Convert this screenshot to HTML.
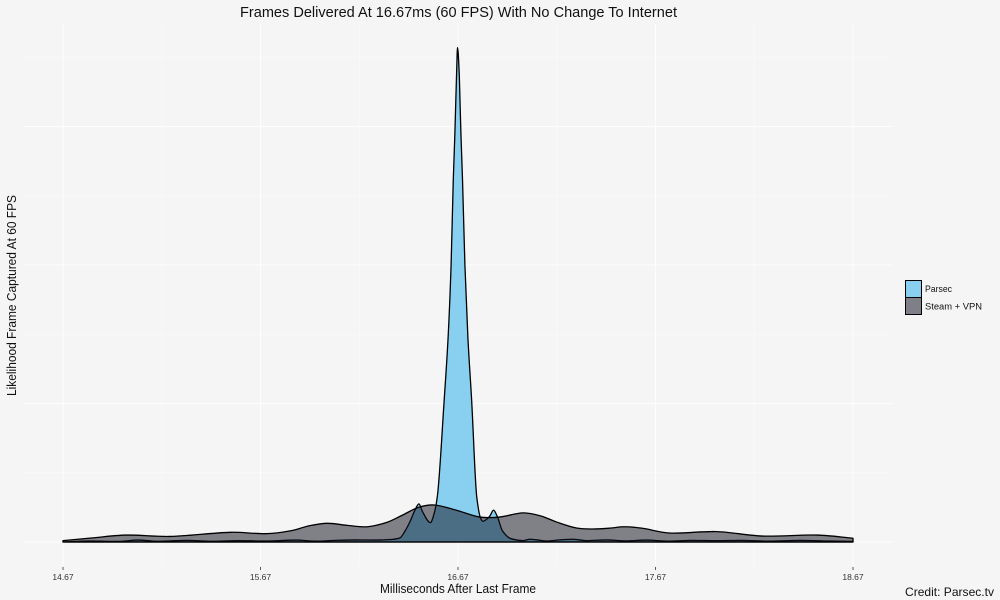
<!DOCTYPE html>
<html lang="en">
<head>
<meta charset="utf-8">
<title>Frames Delivered At 16.67ms</title>
<style>
html,body{margin:0;padding:0;background:#f5f5f5;width:1000px;height:600px;overflow:hidden}
svg{display:block}
text{font-family:"Liberation Sans",sans-serif;fill:#111}
</style>
</head>
<body>
<svg id="chart" xmlns="http://www.w3.org/2000/svg" width="1000" height="600" viewBox="0 0 1000 600">
  <rect x="0" y="0" width="1000" height="600" fill="#f5f5f5"/>
  <g id="grid"></g>
  <g id="series"></g>
  <g id="ticks"></g>
  <text x="458.5" y="17" text-anchor="middle" font-size="14.5" textLength="437" lengthAdjust="spacingAndGlyphs">Frames Delivered At 16.67ms (60 FPS) With No Change To Internet</text>
  <text x="458" y="593" text-anchor="middle" font-size="12.5" textLength="156" lengthAdjust="spacingAndGlyphs">Milliseconds After Last Frame</text>
  <text transform="translate(16,295.5) rotate(-90)" text-anchor="middle" font-size="12.5" textLength="201" lengthAdjust="spacingAndGlyphs">Likelihood Frame Captured At 60 FPS</text>
  <g>
    <g>
      <rect x="905.5" y="280.5" width="16" height="17" fill="#89d0f0" stroke="#000" stroke-width="1"/>
      <text x="925" y="292" font-size="9" textLength="27" lengthAdjust="spacingAndGlyphs">Parsec</text>
    </g>
    <g>
      <rect x="905.5" y="297.5" width="16" height="17" fill="#7f8087" stroke="#000" stroke-width="1"/>
      <text x="925" y="309.5" font-size="9" textLength="57" lengthAdjust="spacingAndGlyphs">Steam + VPN</text>
    </g>
  </g>
  <text x="905" y="596" font-size="12" textLength="89" lengthAdjust="spacingAndGlyphs">Credit: Parsec.tv</text>
</svg>
<script>
const xMajorTicks = [14.67, 15.67, 16.67, 17.67, 18.67];
const xMinorTicks = [15.17, 16.17, 17.17, 18.17];
const xTickLabels = ["14.67", "15.67", "16.67", "17.67", "18.67"];
const yMajorTicks = [0, 1, 2, 3];
const yMinorTicks = [0.5, 1.5, 2.5, 3.5];

const parsecMs = [14.67, 14.8, 14.95, 15.05, 15.15, 15.3, 15.42, 15.55, 15.7, 15.85, 15.95, 16.05, 16.15, 16.25, 16.33, 16.376, 16.4, 16.427, 16.452, 16.472, 16.49, 16.53, 16.55, 16.565, 16.6, 16.62, 16.635, 16.646, 16.654, 16.658, 16.663, 16.6675, 16.676, 16.681, 16.685, 16.693, 16.705, 16.72, 16.739, 16.765, 16.785, 16.795, 16.83, 16.85, 16.87, 16.895, 16.94, 17.0, 17.035, 17.07, 17.12, 17.19, 17.25, 17.32, 17.42, 17.52, 17.62, 17.74, 17.85, 17.98, 18.1, 18.25, 18.4, 18.55, 18.67];
const parsecDensity = [0, 0.007, 0.004, 0.014, 0.005, 0.012, 0.005, 0.01, 0.007, 0.014, 0.006, 0.012, 0.015, 0.014, 0.018, 0.03, 0.075, 0.147, 0.23, 0.275, 0.22, 0.14, 0.21, 0.325, 1.025, 1.48, 2.0, 2.61, 2.94, 3.14, 3.39, 3.57, 3.39, 3.14, 2.94, 2.61, 2.0, 1.48, 1.025, 0.325, 0.17, 0.15, 0.185, 0.23, 0.18, 0.08, 0.023, 0.01, 0.02, 0.015, 0.007, 0.016, 0.02, 0.01, 0.015, 0.008, 0.014, 0.006, 0.012, 0.01, 0.012, 0.006, 0.012, 0.007, 0.004];

const steamMs = [14.67, 14.82, 14.99, 15.21, 15.52, 15.7, 15.82, 15.92, 16.01, 16.11, 16.21, 16.31, 16.39, 16.47, 16.55, 16.66, 16.78, 16.88, 17.0, 17.09, 17.17, 17.27, 17.35, 17.44, 17.51, 17.6, 17.74, 17.98, 18.21, 18.49, 18.67];
const steamDensity = [0.01, 0.03, 0.05, 0.04, 0.07, 0.06, 0.08, 0.118, 0.135, 0.12, 0.11, 0.142, 0.195, 0.25, 0.267, 0.23, 0.18, 0.18, 0.21, 0.188, 0.144, 0.101, 0.094, 0.1, 0.11, 0.1, 0.065, 0.075, 0.043, 0.05, 0.027];

const SVG_NS = "http://www.w3.org/2000/svg";
const xScale = v => 63 + (v - 14.67) * 197.5;
const yScale = v => 542 - v * 138.5;

function line(parent, x1, y1, x2, y2, color, width) {
  const el = document.createElementNS(SVG_NS, "line");
  el.setAttribute("x1", x1);
  el.setAttribute("y1", y1);
  el.setAttribute("x2", x2);
  el.setAttribute("y2", y2);
  el.setAttribute("stroke", color);
  el.setAttribute("stroke-width", width);
  parent.appendChild(el);
  return el;
}

function cubicPath(xs, ys, smooth) {
  const n = xs.length, d = [], m = [];
  for (let i = 0; i < n - 1; i++) d.push((ys[i + 1] - ys[i]) / (xs[i + 1] - xs[i]));
  m.push(d[0]);
  for (let i = 1; i < n - 1; i++) {
    if (smooth) { m.push((ys[i + 1] - ys[i - 1]) / (xs[i + 1] - xs[i - 1])); continue; }
    if (d[i - 1] * d[i] <= 0) { m.push(0); continue; }
    const h0 = xs[i] - xs[i - 1], h1 = xs[i + 1] - xs[i];
    m.push(3 * (h0 + h1) / ((2 * h1 + h0) / d[i - 1] + (h1 + 2 * h0) / d[i]));
  }
  m.push(d[n - 2]);
  let p = "M" + xs[0].toFixed(2) + "," + ys[0].toFixed(2);
  for (let i = 0; i < n - 1; i++) {
    const h = (xs[i + 1] - xs[i]) / 3;
    p += "C" + (xs[i] + h).toFixed(2) + "," + (ys[i] + m[i] * h).toFixed(2) + " " +
      (xs[i + 1] - h).toFixed(2) + "," + (ys[i + 1] - m[i + 1] * h).toFixed(2) + " " +
      xs[i + 1].toFixed(2) + "," + ys[i + 1].toFixed(2);
  }
  return p;
}

function areaPath(msValues, densityValues, smooth) {
  const xs = msValues.map(xScale), ys = densityValues.map(yScale);
  return cubicPath(xs, ys, smooth) + "L" + xs[xs.length - 1].toFixed(2) + "," + yScale(0) + "L" + xs[0].toFixed(2) + "," + yScale(0) + "Z";
}

const grid = document.getElementById("grid");
yMinorTicks.forEach(v => {
  const el = line(grid, 24, yScale(v), 892, yScale(v), "#fbfbfb", 0.6);
  
  
});
xMinorTicks.forEach(v => {
  const el = line(grid, xScale(v), 24, xScale(v), 566, "#fbfbfb", 0.6);
  
  
});
yMajorTicks.forEach(v => {
  const el = line(grid, 24, yScale(v), 892, yScale(v), "#fdfdfd", 1);
  
  
});
xMajorTicks.forEach(v => {
  const el = line(grid, xScale(v), 24, xScale(v), 566, "#fdfdfd", 1);
  
  
});

const series = document.getElementById("series");
const parsecArea = document.createElementNS(SVG_NS, "path");


parsecArea.setAttribute("d", areaPath(parsecMs, parsecDensity, false));
parsecArea.setAttribute("fill", "#89d0f0");
parsecArea.setAttribute("stroke", "#000");
parsecArea.setAttribute("stroke-width", "1.3");
parsecArea.setAttribute("stroke-linejoin", "round");
series.appendChild(parsecArea);

const steamArea = document.createElementNS(SVG_NS, "path");


steamArea.setAttribute("d", areaPath(steamMs, steamDensity, true));
steamArea.setAttribute("fill", "rgba(15,16,30,0.51)");
steamArea.setAttribute("stroke", "#000");
steamArea.setAttribute("stroke-width", "1.3");
steamArea.setAttribute("stroke-linejoin", "round");
series.appendChild(steamArea);

const ticks = document.getElementById("ticks");
xMajorTicks.forEach((v, i) => {
  const mark = line(ticks, xScale(v), 567, xScale(v), 570, "#333", 0.8);
  
  
  const label = document.createElementNS(SVG_NS, "text");
  
  
  label.setAttribute("x", xScale(v));
  label.setAttribute("y", 580);
  label.setAttribute("text-anchor", "middle");
  label.setAttribute("font-size", "8.5");
  label.style.fill = "#333";
  label.textContent = xTickLabels[i];
  ticks.appendChild(label);
});
</script>
</body>
</html>
